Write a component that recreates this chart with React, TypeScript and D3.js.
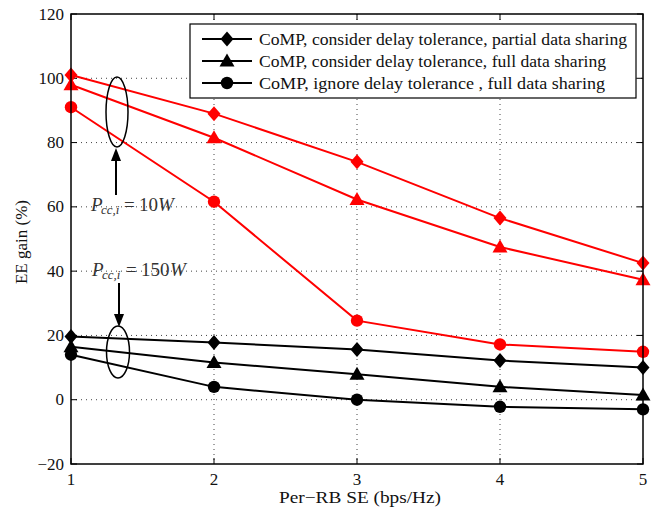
import React from "react";
import * as d3 from "d3";

const xValues = [1, 2, 3, 4, 5];
const xTicks = [1, 2, 3, 4, 5];
const yTicks = [-20, 0, 20, 40, 60, 80, 100, 120];

const redDiamond = [101, 89, 74, 56.5, 42.5];
const redTriangle = [98, 81.5, 62.3, 47.5, 37.3];
const redCircle = [91, 61.6, 24.6, 17.2, 14.9];
const blackDiamond = [19.7, 17.8, 15.6, 12.2, 10];
const blackTriangle = [16.5, 11.6, 7.9, 4, 1.5];
const blackCircle = [14, 4, 0, -2.2, -3];

const legendLabels = [
  "CoMP, consider delay tolerance, partial data sharing",
  "CoMP, consider delay tolerance, full data sharing",
  "CoMP, ignore delay tolerance , full data sharing",
];
const legendWidths = [368, 347, 346];
const xTitle = "Per\u2212RB SE (bps/Hz)";
const yTitle = "EE gain (%)";

type Shape = "diamond" | "triangle" | "circle";

const series: { values: number[]; color: string; shape: Shape }[] = [
  { values: redDiamond, color: "#ff0000", shape: "diamond" },
  { values: redTriangle, color: "#ff0000", shape: "triangle" },
  { values: redCircle, color: "#ff0000", shape: "circle" },
  { values: blackDiamond, color: "#000000", shape: "diamond" },
  { values: blackTriangle, color: "#000000", shape: "triangle" },
  { values: blackCircle, color: "#000000", shape: "circle" },
];

const FONT = "'Liberation Serif', 'DejaVu Serif', serif";

function Marker({ x, y, shape, color }: { x: number; y: number; shape: Shape; color: string }) {
  if (shape === "circle") return <circle cx={x} cy={y} r={6.2} fill={color} />;
  if (shape === "diamond")
    return (
      <path
        d={`M${x},${y - 7.5}L${x + 6.5},${y}L${x},${y + 7.5}L${x - 6.5},${y}Z`}
        fill={color}
      />
    );
  return (
    <path
      d={`M${x},${y - 7.5}L${x + 7.5},${y + 5.5}L${x - 7.5},${y + 5.5}Z`}
      fill={color}
    />
  );
}

export default function App() {
  const W = 656;
  const H = 510;
  const left = 71;
  const right = 643;
  const top = 14;
  const bottom = 464;

  const x = d3.scaleLinear().domain([1, 5]).range([left, right]);
  const y = d3.scaleLinear().domain([-20, 120]).range([bottom, top]);

  const line = d3
    .line<number>()
    .x((_, i) => x(xValues[i]))
    .y((d) => y(d));

  const gridX = xTicks.filter((t) => t !== 1 && t !== 5);
  const gridY = yTicks.filter((t) => t !== -20 && t !== 120);
  const tickLen = 6;

  const legend = { x: 190, y: 24, w: 446, h: 74 };
  const legendRows = [39, 61, 83];
  const legendShapes: Shape[] = ["diamond", "triangle", "circle"];

  return (
    <svg
      width={W}
      height={H}
      style={{ position: "absolute", left: 0, top: 0, background: "#fff" }}
      fontFamily={FONT}
    >
      <rect x={0} y={0} width={W} height={H} fill="#fff" />
      {/* grid */}
      {gridX.map((t) => (
        <line
          key={"gx" + t}
          x1={x(t)}
          x2={x(t)}
          y1={top}
          y2={bottom}
          stroke="#444"
          strokeWidth={1}
          strokeDasharray="1,4"
        />
      ))}
      {gridY.map((t) => (
        <line
          key={"gy" + t}
          x1={left}
          x2={right}
          y1={y(t)}
          y2={y(t)}
          stroke="#444"
          strokeWidth={1}
          strokeDasharray="1,4"
        />
      ))}
      {/* ticks inward */}
      {xTicks.map((t) => (
        <g key={"xt" + t}>
          <line x1={x(t)} x2={x(t)} y1={bottom} y2={bottom - tickLen} stroke="#000" />
          <line x1={x(t)} x2={x(t)} y1={top} y2={top + tickLen} stroke="#000" />
          <text x={x(t)} y={485} fontSize={17} textAnchor="middle" fill="#111">
            {t}
          </text>
        </g>
      ))}
      {yTicks.map((t) => (
        <g key={"yt" + t}>
          <line x1={left} x2={left + tickLen} y1={y(t)} y2={y(t)} stroke="#000" />
          <line x1={right} x2={right - tickLen} y1={y(t)} y2={y(t)} stroke="#000" />
          <text
            x={64}
            y={y(t)}
            fontSize={17}
            textAnchor="end"
            dominantBaseline="central"
            fill="#111"
          >
            {t < 0 ? "\u2212" + Math.abs(t) : t}
          </text>
        </g>
      ))}
      {/* series */}
      {series.map((s, i) => (
        <g key={"s" + i}>
          <path d={line(s.values) || ""} fill="none" stroke={s.color} strokeWidth={2} />
          {s.values.map((v, j) => (
            <Marker key={j} x={x(xValues[j])} y={y(v)} shape={s.shape} color={s.color} />
          ))}
        </g>
      ))}
      {/* axes frame */}
      <rect
        x={left}
        y={top}
        width={right - left}
        height={bottom - top}
        fill="none"
        stroke="#000"
        strokeWidth={1.5}
      />
      {/* legend */}
      <rect
        x={legend.x}
        y={legend.y}
        width={legend.w}
        height={legend.h}
        fill="#fff"
        stroke="#000"
        strokeWidth={1.2}
      />
      {legendLabels.map((lab, i) => (
        <g key={"lg" + i}>
          <line x1={202} x2={252} y1={legendRows[i]} y2={legendRows[i]} stroke="#000" strokeWidth={2} />
          <Marker x={227} y={legendRows[i]} shape={legendShapes[i]} color="#000" />
          <text
            x={259}
            y={legendRows[i] + 5.5}
            fontSize={17}
            textLength={legendWidths[i]}
            lengthAdjust="spacingAndGlyphs"
            fill="#111"
          >
            {lab}
          </text>
        </g>
      ))}
      {/* annotations */}
      <ellipse cx={117} cy={112} rx={11} ry={35} fill="none" stroke="#000" strokeWidth={1.5} />
      <line x1={116} x2={116} y1={195} y2={158} stroke="#000" strokeWidth={2} />
      <path d="M116,148L121,161L111,161Z" fill="#000" />
      <ellipse cx={118} cy={352} rx={11.5} ry={26} fill="none" stroke="#000" strokeWidth={1.5} />
      <line x1={119} x2={119} y1={283} y2={316} stroke="#000" strokeWidth={2} />
      <path d="M119,327L124,314L114,314Z" fill="#000" />

      <g fill="#333" fontSize={19}>
        <text x={91} y={211} fontStyle="italic">P</text>
        <text x={101} y={214} fontStyle="italic" fontSize={13}>cc,i</text>
        <text x={124} y={211}>=</text>
        <text x={139} y={211}>10</text>
        <text x={158} y={211} fontStyle="italic">W</text>

        <text x={92} y={276} fontStyle="italic">P</text>
        <text x={102} y={279} fontStyle="italic" fontSize={13}>cc,i</text>
        <text x={126} y={276}>=</text>
        <text x={141} y={276}>150</text>
        <text x={170} y={276} fontStyle="italic">W</text>
      </g>

      {/* axis titles */}
      <text
        x={360}
        y={503}
        fontSize={17}
        textAnchor="middle"
        textLength={162}
        lengthAdjust="spacingAndGlyphs"
        fill="#111"
      >
        {xTitle}
      </text>
      <text
        transform="translate(27,242) rotate(-90)"
        fontSize={17}
        textAnchor="middle"
        fill="#111"
      >
        {yTitle}
      </text>
    </svg>
  );
}
